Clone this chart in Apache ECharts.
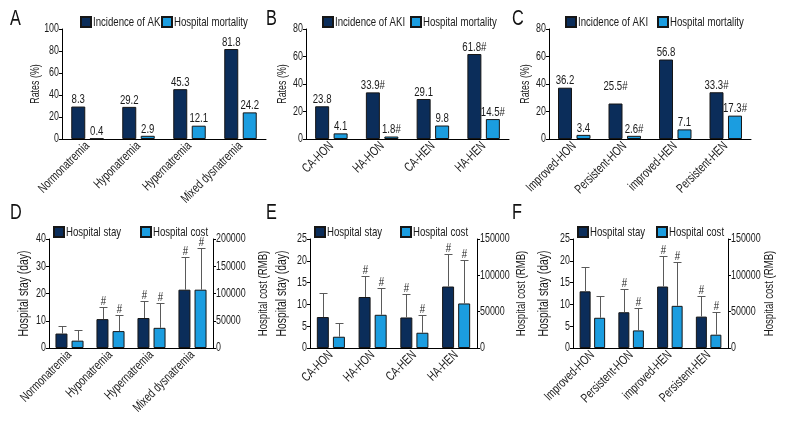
<!DOCTYPE html>
<html>
<head>
<meta charset="utf-8">
<script src="https://cdn.jsdelivr.net/npm/echarts@6/dist/echarts.min.js"></script>
<style>html,body{margin:0;padding:0;background:#fff;}#c{width:792px;height:432px;}</style>
</head>
<body>
<div id="c"></div>
<script>
// ---------- data ----------
const catA = ['Normonatremia', 'Hyponatremia', 'Hypernatremia', 'Mixed dysnatremia'];
const catB = ['CA-HON', 'HA-HON', 'CA-HEN', 'HA-HEN'];
const catC = ['Improved-HON', 'Persistent-HON', 'improved-HEN', 'Persistent-HEN'];

// Panel A
const akiA = [29.5, 29.2, 45.3, 81.8];
const akiLabelA = ['8.3', '29.2', '45.3', '81.8'];
const mortA = [0.4, 2.9, 12.1, 24.2];
const mortLabelA = ['0.4', '2.9', '12.1', '24.2'];
// Panel B
const akiB = [23.8, 33.9, 29.1, 61.8];
const akiLabelB = ['23.8', '33.9#', '29.1', '61.8#'];
const mortB = [4.1, 1.8, 9.8, 14.5];
const mortLabelB = ['4.1', '1.8#', '9.8', '14.5#'];
// Panel C
const akiC = [37.3, 25.8, 57.8, 34.0];
const akiLabelC = ['36.2', '25.5#', '56.8', '33.3#'];
const mortC = [3.0, 2.3, 7.0, 17.0];
const mortLabelC = ['3.4', '2.6#', '7.1', '17.3#'];

// Panel D (mean, SD, significance flag)
const stayD = [5.3, 10.6, 11.0, 21.4];
const staySdD = [2.9, 4.6, 6.2, 12.0];
const staySigD = [0, 1, 1, 1];
const costD = [13500, 31000, 37000, 107000];
const costSdD = [19000, 29500, 45500, 76000];
const costSigD = [0, 1, 1, 1];
// Panel E
const stayE = [7.1, 11.7, 7.0, 14.1];
const staySdE = [5.6, 4.7, 5.5, 7.5];
const staySigE = [0, 1, 1, 1];
const costE = [15500, 45700, 21000, 61300];
const costSdE = [18500, 36600, 24700, 59700];
const costSigE = [0, 1, 1, 1];
// Panel F
const stayF = [13.0, 8.2, 14.1, 7.2];
const staySdF = [5.5, 5.4, 6.9, 4.8];
const staySigF = [0, 1, 1, 1];
const costF = [41600, 24200, 58000, 18300];
const costSdF = [29700, 30700, 60000, 31100];
const costSigF = [0, 1, 1, 1];

// ---------- condensed text rendering (emulates a condensed typeface) ----------
(function () {
  const SX = 0.74;
  const P = CanvasRenderingContext2D.prototype;
  const oFill = P.fillText, oStroke = P.strokeText, oMeasure = P.measureText;
  P.fillText = function (t, x, y, mw) {
    this.save(); this.translate(x, y); this.scale(SX, 1); oFill.call(this, t, 0, 0); this.restore();
  };
  P.strokeText = function (t, x, y, mw) {
    this.save(); this.translate(x, y); this.scale(SX, 1); oStroke.call(this, t, 0, 0); this.restore();
  };
  P.measureText = function (t) {
    const m = oMeasure.call(this, t);
    return {
      width: m.width * SX,
      actualBoundingBoxLeft: m.actualBoundingBoxLeft * SX,
      actualBoundingBoxRight: m.actualBoundingBoxRight * SX,
      actualBoundingBoxAscent: m.actualBoundingBoxAscent,
      actualBoundingBoxDescent: m.actualBoundingBoxDescent,
      fontBoundingBoxAscent: m.fontBoundingBoxAscent,
      fontBoundingBoxDescent: m.fontBoundingBoxDescent
    };
  };
})();

// ---------- styles ----------
const FONT = "'Liberation Sans', Arial, sans-serif";
const DARK = '#0b2d5a', LIGHT = '#1b9de0', EDGE = '#161616', TXT = '#1a1a1a';
const labelLiftC = [0, 10, 0, 0];

const grids = [
  {left: 62, top: 29, width: 204, height: 110},
  {left: 306, top: 29, width: 203, height: 110},
  {left: 549, top: 29, width: 202, height: 110},
  {left: 49, top: 239, width: 164, height: 109},
  {left: 310, top: 239, width: 167, height: 109},
  {left: 573, top: 239, width: 155, height: 109}
];
const cats = [catA, catB, catC, catA, catB, catC];

const xAxes = cats.map((c, i) => ({
  type: 'category', gridIndex: i, data: c,
  axisLine: {lineStyle: {color: '#000', width: 1}},
  axisTick: {alignWithLabel: true, length: 4, lineStyle: {color: '#000'}},
  axisLabel: {rotate: 45, fontSize: 13, fontFamily: FONT, color: TXT, margin: 5, interval: 0}
}));

function yAx(grid, max, interval, name, gap, nameSize, pos) {
  return {
    type: 'value', gridIndex: grid, min: 0, max, interval, position: pos || 'left',
    name, nameLocation: 'middle', nameGap: gap, nameRotate: 90,
    nameTextStyle: {fontSize: nameSize, fontFamily: FONT, color: TXT},
    axisLine: {show: true, lineStyle: {color: '#000', width: 1}},
    axisTick: {show: true, length: 3, lineStyle: {color: '#000'}},
    axisLabel: {fontSize: 12, fontFamily: FONT, color: TXT, margin: 3, formatter: v => String(v)},
    splitLine: {show: false}
  };
}
const yAxes = [
  yAx(0, 100, 20, 'Rates (%)', 22, 12),
  yAx(1, 80, 20, 'Rates (%)', 19, 12),
  yAx(2, 80, 20, 'Rates (%)', 19, 12),
  yAx(3, 40, 10, 'Hospital stay (day)', 20, 14),
  yAx(3, 200000, 50000, 'Hospital cost (RMB)', 46, 13, 'right'),
  yAx(4, 25, 5, 'Hospital stay (day)', 23, 14),
  yAx(4, 150000, 50000, 'Hospital cost (RMB)', 40, 13, 'right'),
  yAx(5, 25, 5, 'Hospital stay (day)', 24, 14),
  yAx(5, 150000, 50000, 'Hospital cost (RMB)', 36, 13, 'right')
];

function rateBar(name, color, xi, yi, vals, labels, lift) {
  return {
    type: 'bar', name, xAxisIndex: xi, yAxisIndex: yi,
    barWidth: 14, barGap: '32%',
    itemStyle: {color, borderColor: EDGE, borderWidth: 1},
    data: vals.map((v, i) => ({value: v, label: {offset: [0, -(lift ? lift[i] : 0)]}})),
    label: {show: true, position: 'top', distance: 2, fontSize: 13, fontFamily: FONT, color: TXT,
      formatter: p => labels[p.dataIndex]}
  };
}
function meanBar(name, color, xi, yi, vals, bw, gap) {
  return {
    type: 'bar', name, xAxisIndex: xi, yAxisIndex: yi,
    barWidth: bw, barGap: gap,
    itemStyle: {color, borderColor: EDGE, borderWidth: 1},
    data: vals
  };
}
function errBar(xi, yi, means, sds, flags, side, bw, gapPx) {
  return {
    type: 'custom', name: 'err', xAxisIndex: xi, yAxisIndex: yi, z: 3,
    data: means.map((m, i) => [i, m, m + sds[i], flags[i]]),
    renderItem: (params, api) => {
      const base = api.coord([api.value(0), api.value(1)]);
      const top = api.coord([api.value(0), api.value(2)]);
      const x = Math.round(base[0] + side * (bw + gapPx) / 2) + 0.5;
      const ty = Math.round(top[1]) + 0.5;
      const ch = [
        {type: 'line', shape: {x1: x, y1: base[1], x2: x, y2: ty}, style: {stroke: '#5a5a5a', lineWidth: 1}},
        {type: 'line', shape: {x1: x - 4, y1: ty, x2: x + 4, y2: ty}, style: {stroke: '#5a5a5a', lineWidth: 1}}
      ];
      if (api.value(3)) {
        ch.push({type: 'text', x: x, y: ty - 1,
          style: {text: '#', fontSize: 13, fontFamily: FONT, fill: TXT, align: 'center', verticalAlign: 'bottom'}});
      }
      return {type: 'group', children: ch};
    }
  };
}

const series = [
  rateBar('Incidence of AKI', DARK, 0, 0, akiA, akiLabelA),
  rateBar('Hospital mortality', LIGHT, 0, 0, mortA, mortLabelA),
  rateBar('Incidence of AKI', DARK, 1, 1, akiB, akiLabelB),
  rateBar('Hospital mortality', LIGHT, 1, 1, mortB, mortLabelB),
  rateBar('Incidence of AKI', DARK, 2, 2, akiC, akiLabelC, labelLiftC),
  rateBar('Hospital mortality', LIGHT, 2, 2, mortC, mortLabelC),

  meanBar('Hospital stay', DARK, 3, 3, stayD, 12, '34%'),
  meanBar('Hospital cost', LIGHT, 3, 4, costD, 12, '34%'),
  errBar(3, 3, stayD, staySdD, staySigD, -1, 12, 4),
  errBar(3, 4, costD, costSdD, costSigD, 1, 12, 4),

  meanBar('Hospital stay', DARK, 4, 5, stayE, 12, '34%'),
  meanBar('Hospital cost', LIGHT, 4, 6, costE, 12, '34%'),
  errBar(4, 5, stayE, staySdE, staySigE, -1, 12, 4),
  errBar(4, 6, costE, costSdE, costSigE, 1, 12, 4),

  meanBar('Hospital stay', DARK, 5, 7, stayF, 11, '32%'),
  meanBar('Hospital cost', LIGHT, 5, 8, costF, 11, '32%'),
  errBar(5, 7, stayF, staySdF, staySigF, -1, 11, 3.5),
  errBar(5, 8, costF, costSdF, costSigF, 1, 11, 3.5)
];

function leg(name, left, top) {
  return {
    data: [name], left, top, padding: 0, itemWidth: 10, itemHeight: 10, icon: 'rect',
    selectedMode: false,
    textStyle: {fontSize: 13, fontFamily: FONT, color: TXT, padding: [0, 0, 0, -3]}
  };
}
const legends = [
  leg('Incidence of AKI', 80, 16), leg('Hospital mortality', 161, 16),
  leg('Incidence of AKI', 322, 16), leg('Hospital mortality', 410, 16),
  leg('Incidence of AKI', 565, 16), leg('Hospital mortality', 657, 16),
  leg('Hospital stay', 53, 226), leg('Hospital cost', 140, 226),
  leg('Hospital stay', 314, 226), leg('Hospital cost', 400, 226),
  leg('Hospital stay', 577, 226), leg('Hospital cost', 656, 226)
];

const letters = [['A', 10, 11], ['B', 266, 11], ['C', 512, 11], ['D', 10, 205], ['E', 266, 205], ['F', 512, 205]];

const chart = echarts.init(document.getElementById('c'), null, {renderer: 'canvas'});
chart.setOption({
  animation: false,
  backgroundColor: '#fff',
  grid: grids,
  xAxis: xAxes,
  yAxis: yAxes,
  legend: legends,
  series,
  graphic: letters.map(l => ({
    type: 'text', left: l[1], top: l[2],
    style: {text: l[0], fontSize: 22, fontFamily: FONT, fill: '#111'}
  }))
});
</script>
</body>
</html>
